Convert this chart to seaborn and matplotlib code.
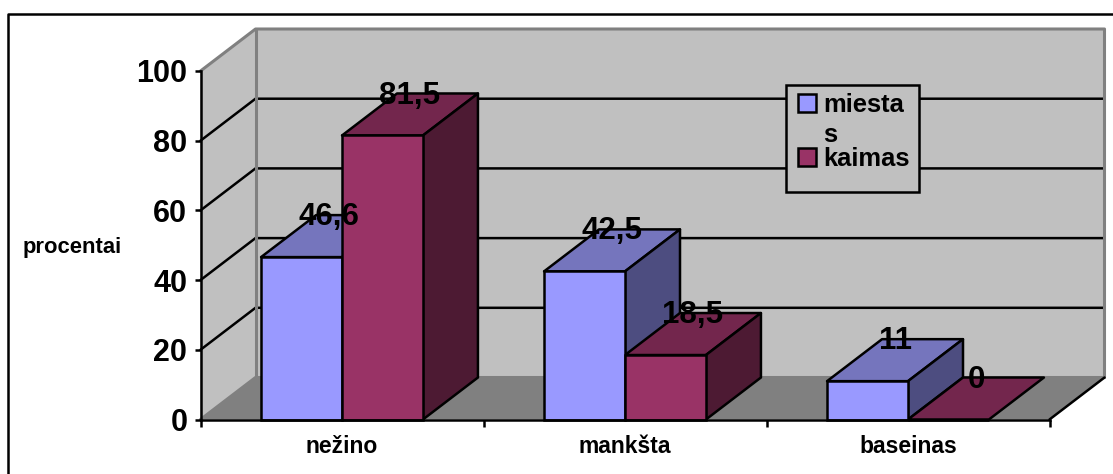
import matplotlib
matplotlib.use("Agg")
import matplotlib.pyplot as plt
from matplotlib.lines import Line2D
from matplotlib.patches import Polygon, Rectangle
from matplotlib.transforms import Affine2D
import pandas as pd
import seaborn as sns

categories = ["nežino", "mankšta", "baseinas"]
miestas = [46.6, 42.5, 11]
kaimas = [81.5, 18.5, 0]
series_names = ["miestas", "kaimas"]
y_ticks = [0, 20, 40, 60, 80, 100]

FRONT = ["#9999FF", "#993366"]
TOP = ["#7575BD", "#73264D"]
SIDE = ["#4D4D80", "#4D1A33"]
WALL = "#C0C0C0"
FLOOR = "#808080"
BAR_WIDTH = 0.572
DX, DY = 55 / 283, 12.05   # oblique depth, in data units
X0, X1 = -0.5, 2.5
LW = 1.8

sns.set_style("white")
plt.rcParams["font.family"] = ["Liberation Sans", "DejaVu Sans"]
plt.rcParams["font.weight"] = "bold"
plt.rcParams["text.color"] = "black"
plt.rcParams["xtick.labelcolor"] = "black"
plt.rcParams["ytick.labelcolor"] = "black"
plt.rcParams["axes.labelcolor"] = "black"

W, H = 1113, 474
fig = plt.figure(figsize=(W / 100, H / 100), dpi=100)
ax = fig.add_axes([200.5 / W, 1 - 419.5 / H, 849 / W, 348.5 / H])
pixels = Affine2D().scale(1 / W, -1 / H).translate(0, 1) + fig.transFigure

frame = pd.DataFrame({
    "category": categories * 2,
    "series": [series_names[0]] * 3 + [series_names[1]] * 3,
    "value": miestas + kaimas,
})
sns.barplot(data=frame, x="category", y="value", hue="series", hue_order=series_names,
            palette=FRONT, width=BAR_WIDTH, gap=0, dodge=True, legend=False, ax=ax,
            edgecolor="black", linewidth=LW, saturation=1, zorder=3, clip_on=False)
ax.set_xlim(X0, X1)
ax.set_ylim(0, 100)
ax.set_facecolor("none")

# Side wall, back wall and floor
def poly(pts, fc, z, ec="none", lw=0):
    ax.add_patch(Polygon(pts, closed=True, facecolor=fc, edgecolor=ec, linewidth=lw,
                         zorder=z, clip_on=False, joinstyle="round"))

poly([(X0, 0), (X0 + DX, DY), (X0 + DX, 100 + DY), (X0, 100)], WALL, 0.1)
poly([(X0 + DX, DY), (X1 + DX, DY), (X1 + DX, 100 + DY), (X0 + DX, 100 + DY)], WALL, 0.1)
poly([(X0, 0), (X1, 0), (X1 + DX, DY), (X0 + DX, DY)], FLOOR, 0.2)

for tick in y_ticks[1:-1]:
    ax.plot([X0, X0 + DX, X1 + DX], [tick, tick + DY, tick + DY], color="black", lw=LW,
            zorder=0.3, clip_on=False, solid_joinstyle="miter")

edge = dict(color=FLOOR, lw=2.2, zorder=0.4, clip_on=False)
ax.plot([X0, X0 + DX, X1 + DX, X1 + DX], [100, 100 + DY, 100 + DY, DY], **edge)
ax.plot([X0 + DX, X0 + DX], [DY, 100 + DY], **edge)
ax.plot([X0, X0 + DX, X1 + DX], [0, DY, DY], **edge)
ax.plot([X1, X1 + DX], [0, DY], color="black", lw=LW, zorder=0.5, clip_on=False)

# Oblique faces of each bar, then its value label
for s, values in enumerate([miestas, kaimas]):
    for c, v in enumerate(values):
        left = c - BAR_WIDTH / 2 + s * BAR_WIDTH / 2
        right = left + BAR_WIDTH / 2
        poly([(left, v), (right, v), (right + DX, v + DY), (left + DX, v + DY)],
             TOP[s], 1 + s, "black", LW)
        if v > 0:
            poly([(right, 0), (right + DX, DY), (right + DX, v + DY), (right, v)],
                 SIDE[s], 1 + s, "black", LW)
        ax.annotate(str(v).replace(".", ","), ((left + right) / 2 + DX / 2, v + DY),
                    xytext=(0, -1.5), textcoords="offset points",
                    ha="center", va="center", fontsize=22.5, fontweight="bold", zorder=6,
                    color="black", annotation_clip=False)

# Axes
for name in ("top", "right"):
    ax.spines[name].set_visible(False)
for name in ("left", "bottom"):
    ax.spines[name].set(color="black", linewidth=LW, zorder=5)
ax.set_yticks(y_ticks)
ax.tick_params(axis="y", left=True, length=4, width=LW, color="black", labelsize=22, pad=5.5)
ax.set_xticks([X0, X0 + 1, X0 + 2, X1], minor=True)
ax.tick_params(axis="x", which="minor", bottom=True, length=5, width=LW, color="black")
ax.tick_params(axis="x", which="major", bottom=False, labelsize=16.5, pad=8)
ax.set_xlabel("")
ax.set_ylabel("procentai", rotation=0, fontsize=15.8, fontweight="bold", ha="center", va="center")
ax.yaxis.set_label_coords((72.5 - 201) / 849, (419.5 - 247) / 348.5)

# Key box
ax.add_patch(Rectangle((786, 85), 133, 107, transform=pixels, facecolor=WALL, edgecolor="black",
                       linewidth=LW, zorder=7, clip_on=False))
for y, color in zip((94, 148), FRONT):
    ax.add_patch(Rectangle((798, y), 18, 18, transform=pixels, facecolor=color, edgecolor="black",
                           linewidth=LW, zorder=8, clip_on=False))
for y, label in zip((112, 142, 166), ("miesta", "s", "kaimas")):
    ax.text(823, y, label, transform=pixels, fontsize=18.4, fontweight="bold", ha="left",
            va="baseline", zorder=8, color="black")

# Outer chart border: left and top edges
fig.add_artist(Line2D([8 / W, 8 / W, 1], [0, 1 - 13.5 / H, 1 - 13.5 / H], color="black", lw=LW))

fig.savefig("out.png", dpi=100, facecolor="white")
